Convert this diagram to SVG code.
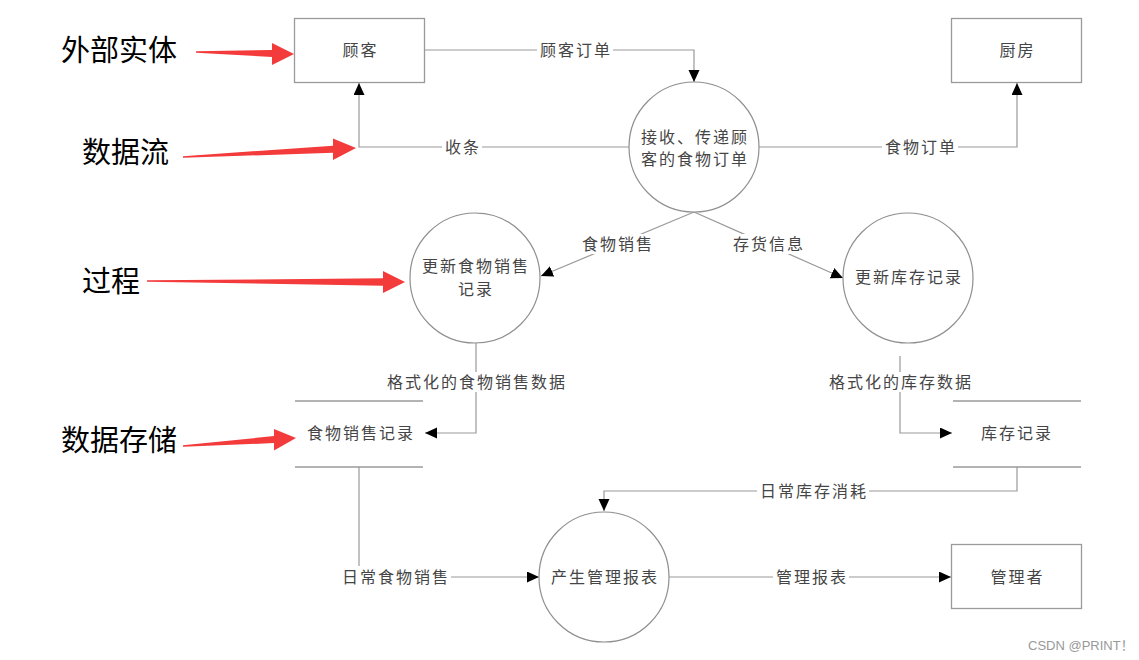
<svg xmlns="http://www.w3.org/2000/svg" width="1139" height="660" viewBox="0 0 1139 660">
<style>
.box{fill:#fff;stroke:#9a9a9a;stroke-width:1.3}
.circ{fill:#fff;stroke:#8f8f8f;stroke-width:1.2}
.store{fill:none;stroke:#9a9a9a;stroke-width:1.3}
.lbl{font-family:"Noto Sans CJK SC","Noto Sans",sans-serif;font-size:16px;fill:#454545;letter-spacing:2px;text-anchor:middle}
.ann{font-family:"Noto Sans CJK SC","Noto Sans",sans-serif;font-size:29px;fill:#000}
.conn path{fill:none;stroke:#999;stroke-width:1.2}
.bg{fill:#fff}
.red{fill:#f43b3b}
.wm{font-family:"Liberation Sans","Noto Sans CJK SC",sans-serif;font-size:13px;fill:#999}
</style>
<defs>
<marker id="ah" markerUnits="userSpaceOnUse" markerWidth="13" markerHeight="12" refX="12" refY="5.5" orient="auto">
<path d="M0,0 L12,5.5 L0,11 z" fill="#000"/>
</marker>
</defs>
<rect width="1139" height="660" fill="#fff"/>

<g id="connectors" class="conn">
<path d="M424,50 H694 V82" marker-end="url(#ah)"/>
<path d="M629,147 H359 V83" marker-end="url(#ah)"/>
<path d="M759,147 H1017 V83" marker-end="url(#ah)"/>
<path d="M694,212 L541,276" marker-end="url(#ah)"/>
<path d="M694,212 L843,278" marker-end="url(#ah)"/>
<path d="M476,343 V433 H425" marker-end="url(#ah)"/>
<path d="M900,356 V433 H952" marker-end="url(#ah)"/>
<path d="M1017,467 V491 H604 V511" marker-end="url(#ah)"/>
<path d="M359,467 V577 H539" marker-end="url(#ah)"/>
<path d="M669,577 H951" marker-end="url(#ah)"/>
<g id="labels">
<rect class="bg" x="537" y="41" width="76" height="18"/>
<text class="lbl" x="576" y="55.5">顾客订单</text>
<rect class="bg" x="442" y="138" width="40" height="18"/>
<text class="lbl" x="463" y="152.5">收条</text>
<rect class="bg" x="882" y="138" width="76" height="18"/>
<text class="lbl" x="921" y="152.5">食物订单</text>
<rect class="bg" x="579" y="234" width="76" height="20"/>
<text class="lbl" x="618" y="249.5">食物销售</text>
<rect class="bg" x="730" y="234" width="76" height="20"/>
<text class="lbl" x="769" y="249.5">存货信息</text>
<rect class="bg" x="384" y="372" width="184" height="20"/>
<text class="lbl" x="477" y="387.5">格式化的食物销售数据</text>
<rect class="bg" x="826" y="372" width="148" height="20"/>
<text class="lbl" x="901" y="387.5">格式化的库存数据</text>
<rect class="bg" x="757" y="482" width="112" height="18"/>
<text class="lbl" x="814" y="496.5">日常库存消耗</text>
<rect class="bg" x="339" y="566" width="112" height="22"/>
<text class="lbl" x="396" y="582.5">日常食物销售</text>
<rect class="bg" x="773" y="568" width="76" height="18"/>
<text class="lbl" x="812" y="582.5">管理报表</text>
</g>
</g>

<g id="customer">
<rect class="box" x="294.5" y="18.5" width="130" height="64"/>
<text class="lbl" x="360.5" y="55.5">顾客</text>
</g>
<g id="kitchen">
<rect class="box" x="951.5" y="18.5" width="130" height="64"/>
<text class="lbl" x="1017.5" y="55.5">厨房</text>
</g>
<g id="p-receive">
<circle class="circ" cx="694" cy="147" r="65"/>
<text class="lbl" x="695" y="142.5">接收、传递顾</text>
<text class="lbl" x="695" y="164.5">客的食物订单</text>
</g>
<g id="p-sales">
<circle class="circ" cx="475" cy="278" r="65"/>
<text class="lbl" x="476" y="271.5">更新食物销售</text>
<text class="lbl" x="476" y="294.5">记录</text>
</g>
<g id="p-stock">
<circle class="circ" cx="908" cy="278" r="65"/>
<text class="lbl" x="909" y="282.5">更新库存记录</text>
</g>
<g id="p-report">
<circle class="circ" cx="604" cy="577" r="65"/>
<text class="lbl" x="605" y="582.5">产生管理报表</text>
</g>
<g id="ds-sales">
<path class="store" d="M295,401 H423 M295,467 H423"/>
<text class="lbl" x="361" y="438.5">食物销售记录</text>
</g>
<g id="ds-stock">
<path class="store" d="M953,401 H1081 M953,467 H1081"/>
<text class="lbl" x="1017" y="438.5">库存记录</text>
</g>
<g id="manager">
<rect class="box" x="951.5" y="544.5" width="130" height="64"/>
<text class="lbl" x="1017.5" y="582.5">管理者</text>
</g>

<g id="annotations">
<text class="ann" x="61" y="61">外部实体</text>
<polygon class="red" points="196,51.2 272,50 272,43 294,54 272,65 272,57 196,52.8"/>
<text class="ann" x="82" y="163">数据流</text>
<polygon class="red" points="183,156.2 333,145.7 333,138.5 356,148 333,160 333,152.7 183,157.8"/>
<text class="ann" x="82" y="292">过程</text>
<polygon class="red" points="147,280.3 383,278.3 383,271 405,282 383,293 383,285.7 147,281.7"/>
<text class="ann" x="61" y="451">数据存储</text>
<polygon class="red" points="183,445.2 274,436.1 274,429 296,438 274,450.5 274,443.1 183,446.8"/>
</g>
<text class="wm" x="1028" y="650">CSDN @PRINT！</text>
</svg>
